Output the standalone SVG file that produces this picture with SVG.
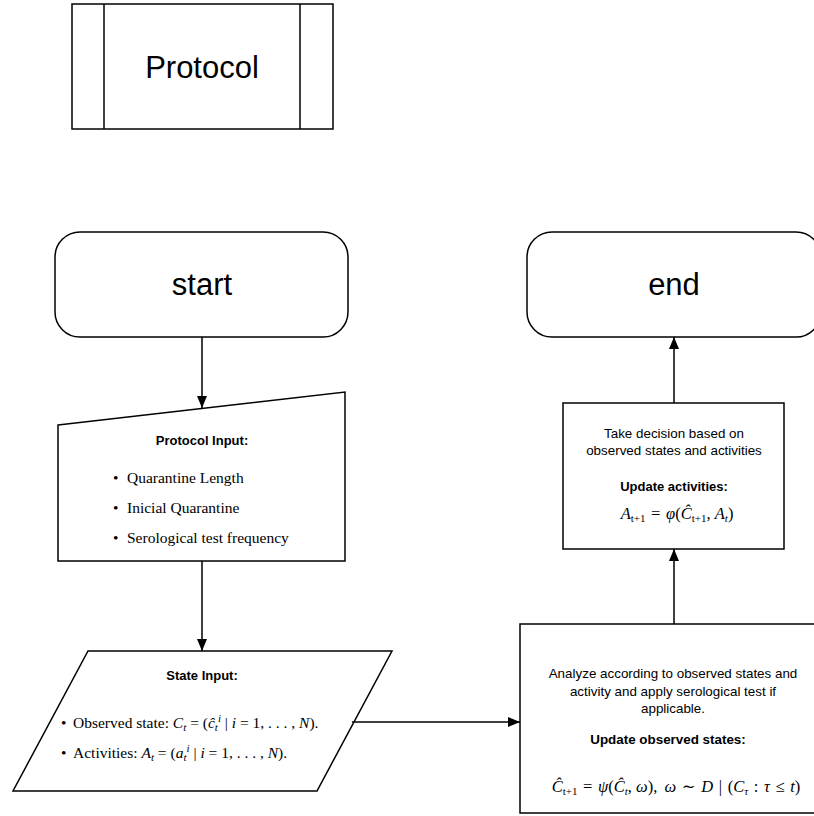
<svg xmlns="http://www.w3.org/2000/svg" width="814" height="816" viewBox="0 0 814 816">
<style>
.shape{fill:#fff;stroke:#000;stroke-width:1.5}
.big{font-family:"Liberation Sans",Arial,sans-serif;font-size:31px;text-anchor:middle;fill:#000}
.sans{font-family:"Liberation Sans",Arial,sans-serif;font-size:13.4px;text-anchor:middle;fill:#000}
.bold{font-family:"Liberation Sans",Arial,sans-serif;font-size:13px;font-weight:bold;text-anchor:middle;fill:#000}
.tx{font-family:"Liberation Serif","DejaVu Serif",serif;font-size:15.5px;fill:#000}
.fx{font-size:16.5px}
.mid{text-anchor:middle}
.it{font-style:italic}
.sm{font-size:11px}
.conn{fill:none;stroke:#000;stroke-width:1.5}
</style>
<defs>
<marker id="arr" markerUnits="userSpaceOnUse" markerWidth="12" markerHeight="10" refX="12" refY="5" orient="auto">
<path d="M0,0 L12,5 L0,10 z" fill="#000"/>
</marker>
</defs>
<rect width="814" height="816" fill="#fff"/>

<g id="protocol">
<rect class="shape" x="72" y="4" width="261" height="125"/>
<line class="shape" x1="104" y1="4" x2="104" y2="129"/>
<line class="shape" x1="300" y1="4" x2="300" y2="129"/>
<text class="big" x="202" y="78">Protocol</text>
</g>

<g id="start">
<rect class="shape" x="55" y="232" width="293" height="105" rx="25" ry="25"/>
<text class="big" x="202" y="295">start</text>
</g>

<g id="end">
<rect class="shape" x="527" y="232" width="294" height="105" rx="25" ry="25"/>
<text class="big" x="674" y="295">end</text>
</g>

<g id="protocol-input">
<polygon class="shape" points="58,425 345,392 345,561 58,561"/>
<text class="bold" x="202" y="445">Protocol Input:</text>
<text class="tx" x="113" y="483">•</text>
<text class="tx" x="127" y="483">Quarantine Length</text>
<text class="tx" x="113" y="513">•</text>
<text class="tx" x="127" y="513">Inicial Quarantine</text>
<text class="tx" x="113" y="543">•</text>
<text class="tx" x="127" y="543">Serological test frequency</text>
</g>

<g id="state-input">
<polygon class="shape" points="88,651 392,651 317,791 13,791"/>
<text class="bold" x="202" y="680">State Input:</text>
<text class="tx" x="61" y="728">•</text>
<text class="tx" x="73" y="728">Observed state: <tspan class="it">C</tspan><tspan class="sm it" dy="3">t</tspan><tspan dy="-3"> = (</tspan><tspan class="it">ĉ</tspan><tspan class="sm it" dy="3">t</tspan><tspan class="sm it" dy="-9">i</tspan><tspan dy="6"> | </tspan><tspan class="it">i</tspan> = 1, . . . , <tspan class="it">N</tspan>).</text>
<text class="tx" x="61" y="758">•</text>
<text class="tx" x="73" y="758">Activities: <tspan class="it">A</tspan><tspan class="sm it" dy="3">t</tspan><tspan dy="-3"> = (</tspan><tspan class="it">a</tspan><tspan class="sm it" dy="3">t</tspan><tspan class="sm it" dy="-9">i</tspan><tspan dy="6"> | </tspan><tspan class="it">i</tspan> = 1, . . . , <tspan class="it">N</tspan>).</text>
</g>

<g id="analyze">
<rect class="shape" x="520" y="624" width="306" height="189"/>
<text class="sans" x="673" y="678">Analyze according to observed states and</text>
<text class="sans" x="673" y="696">activity and apply serological test if</text>
<text class="sans" x="673" y="713">applicable.</text>
<text class="bold" x="668" y="744" style="font-size:13.4px">Update observed states:</text>
<text class="tx fx mid" x="676" y="792"><tspan class="it">Ĉ</tspan><tspan class="sm" dy="3">t+1</tspan><tspan dy="-3" dx="1.5"> = </tspan><tspan class="it" dx="1.5">ψ</tspan>(<tspan class="it">Ĉ</tspan><tspan class="sm it" dy="3">t</tspan><tspan dy="-3">, </tspan><tspan class="it">ω</tspan>), <tspan class="it" dx="3">ω</tspan><tspan dx="1.5"> ∼ </tspan><tspan class="it" dx="1.5">D</tspan><tspan dx="1.5"> | </tspan><tspan dx="1.5">(</tspan><tspan class="it">C</tspan><tspan class="sm it" dy="3">τ</tspan><tspan dy="-3" dx="1.5"> : </tspan><tspan class="it" dx="1.5">τ</tspan><tspan dx="1.5"> ≤ </tspan><tspan class="it" dx="1.5">t</tspan>)</text>
</g>

<g id="decision">
<rect class="shape" x="563" y="403" width="221" height="146"/>
<text class="sans" x="674" y="438">Take decision based on</text>
<text class="sans" x="674" y="455">observed states and activities</text>
<text class="bold" x="674" y="491">Update activities:</text>
<text class="tx fx mid" x="677" y="519"><tspan class="it">A</tspan><tspan class="sm" dy="3">t+1</tspan><tspan dy="-3" dx="1.5"> = </tspan><tspan class="it" dx="1.5">φ</tspan>(<tspan class="it">Ĉ</tspan><tspan class="sm" dy="3">t+1</tspan><tspan dy="-3">, </tspan><tspan class="it">A</tspan><tspan class="sm it" dy="3">t</tspan><tspan dy="-3">)</tspan></text>
</g>

<g id="connectors">
<line class="conn" x1="202" y1="337" x2="202" y2="408" marker-end="url(#arr)"/>
<line class="conn" x1="202" y1="561" x2="202" y2="651" marker-end="url(#arr)"/>
<line class="conn" x1="352" y1="722" x2="520" y2="722" marker-end="url(#arr)"/>
<line class="conn" x1="674" y1="624" x2="674" y2="549" marker-end="url(#arr)"/>
<line class="conn" x1="674" y1="403" x2="674" y2="337" marker-end="url(#arr)"/>
</g>
</svg>
